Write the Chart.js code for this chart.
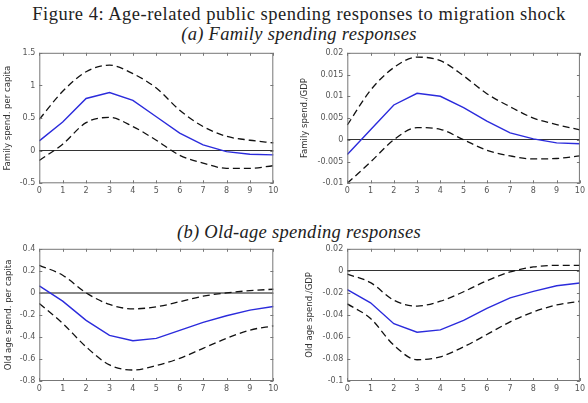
<!DOCTYPE html>
<html>
<head>
<meta charset="utf-8">
<script src="https://cdn.jsdelivr.net/npm/chart.js@4"></script>
<style>
body { margin: 0; background: #fff; width: 588px; height: 403px; position: relative; overflow: hidden; }
.t { position: absolute; left: 0; width: 598px; text-align: center; font-family: 'Liberation Serif', serif; color: #222; line-height: 1; white-space: nowrap; font-size: 18.5px; }
canvas { position: absolute; }
</style>
</head>
<body>
<div class="t" style="top:5px;letter-spacing:0.5px">Figure 4: Age-related public spending responses to migration shock</div>
<div class="t" style="top:25px;font-style:italic;letter-spacing:0.3px">(a) Family spending responses</div>
<div class="t" style="top:223px;font-style:italic;letter-spacing:0.3px">(b) Old-age spending responses</div>
<canvas id="c1" width="292" height="166" style="left:0;top:44px"></canvas>
<canvas id="c2" width="293" height="166" style="left:295px;top:44px"></canvas>
<canvas id="c3" width="292" height="163" style="left:0;top:240px"></canvas>
<canvas id="c4" width="293" height="163" style="left:295px;top:240px"></canvas>
<script>
var horizons = [0, 1, 2, 3, 4, 5, 6, 7, 8, 9, 10];

// family spending per capita
var famPcMean  = [0.15, 0.44, 0.80, 0.89, 0.77, 0.52, 0.27, 0.09, -0.015, -0.055, -0.065];
var famPcUpper = [0.48, 0.91, 1.21, 1.31, 1.18, 0.96, 0.62, 0.37, 0.22, 0.16, 0.12];
var famPcLower = [-0.15, 0.10, 0.43, 0.51, 0.37, 0.16, -0.07, -0.19, -0.27, -0.27, -0.23];
var famPcTicks = [-0.5, 0, 0.5, 1, 1.5];

// family spending / GDP
var famGdpMean  = [-0.0034, 0.0023, 0.0080, 0.0107, 0.0100, 0.0074, 0.0043, 0.0016, 0.0002, -0.0007, -0.0009];
var famGdpUpper = [0.0034, 0.0114, 0.0166, 0.0190, 0.0182, 0.0147, 0.0106, 0.0076, 0.0050, 0.0035, 0.0023];
var famGdpLower = [-0.0100, -0.0051, 0.0000, 0.0028, 0.0024, 0.0000, -0.0024, -0.0037, -0.0044, -0.0043, -0.0037];
var famGdpTicks = [-0.01, -0.005, 0, 0.005, 0.01, 0.015, 0.02];

// old-age spending per capita
var oldPcMean  = [0.063, -0.075, -0.25, -0.386, -0.434, -0.413, -0.34, -0.268, -0.208, -0.157, -0.124];
var oldPcUpper = [0.25, 0.16, 0.0, -0.105, -0.145, -0.127, -0.08, -0.03, 0.0, 0.02, 0.033];
var oldPcLower = [-0.097, -0.277, -0.49, -0.654, -0.70, -0.66, -0.594, -0.503, -0.413, -0.338, -0.30];
var oldPcTicks = [-0.8, -0.6, -0.4, -0.2, 0, 0.2, 0.4];

// old-age spending / GDP
var oldGdpMean  = [-0.017, -0.029, -0.048, -0.0557, -0.0536, -0.045, -0.034, -0.0246, -0.0186, -0.0135, -0.011];
var oldGdpUpper = [-0.003, -0.0107, -0.0267, -0.032, -0.0276, -0.019, -0.009, -0.001, 0.0035, 0.005, 0.005];
var oldGdpLower = [-0.030, -0.0433, -0.0675, -0.0807, -0.078, -0.069, -0.0578, -0.0463, -0.0373, -0.031, -0.0276];
var oldGdpTicks = [-0.1, -0.08, -0.06, -0.04, -0.02, 0, 0.02];

// box round the plot area with inward tick marks, like matlab
var framePlugin = {
	id: 'frame',
	afterDraw: function(chart) {
		var ctx = chart.ctx;
		var a = chart.chartArea;
		var xs = chart.scales.x, ys = chart.scales.y;
		var len = 3;
		ctx.save();
		ctx.strokeStyle = '#777';
		ctx.lineWidth = 1;
		ctx.strokeRect(a.left + 0.5, a.top + 0.5, a.right - a.left - 1, a.bottom - a.top - 1);
		ctx.beginPath();
		xs.ticks.forEach(function(t, i) {
			var px = Math.round(xs.getPixelForTick(i)) + 0.5;
			ctx.moveTo(px, a.bottom); ctx.lineTo(px, a.bottom - len);
			ctx.moveTo(px, a.top); ctx.lineTo(px, a.top + len);
		});
		ys.ticks.forEach(function(t) {
			var py = Math.round(ys.getPixelForValue(t.value)) + 0.5;
			ctx.moveTo(a.left, py); ctx.lineTo(a.left + len, py);
			ctx.moveTo(a.right, py); ctx.lineTo(a.right - len, py);
		});
		ctx.stroke();
		ctx.restore();
	}
};

function makePanel(id, mean, upper, lower, yTicks, yTitle, o) {
	var dashed = function(values) {
		return {
			data: values,
			borderColor: '#111',
			borderWidth: 1.3,
			borderDash: [7, 4],
			pointRadius: 0,
			cubicInterpolationMode: 'monotone'
		};
	};
	return new Chart(document.getElementById(id), {
		type: 'line',
		data: {
			labels: horizons,
			datasets: [
				dashed(upper),
				dashed(lower),
				{
					data: mean,
					borderColor: '#2b2bdc',
					borderWidth: 1.4,
					pointRadius: 0,
					tension: 0
				}
			]
		},
		options: {
			responsive: false,
			animation: false,
			layout: { padding: { left: 0, right: o.padRight, top: o.padTop, bottom: 0 } },
			plugins: { legend: { display: false }, tooltip: { enabled: false } },
			scales: {
				x: {
					offset: false,
					grid: { display: false, drawTicks: false },
					border: { display: false },
					ticks: { color: '#555', font: { family: 'DejaVu Sans', size: 8 }, padding: 3, maxRotation: 0, autoSkip: false },
					afterFit: function(scale) { scale.height = o.xHeight; }
				},
				y: {
					min: yTicks[0],
					max: yTicks[yTicks.length - 1],
					afterBuildTicks: function(axis) {
						axis.ticks = yTicks.map(function(v) { return { value: v }; });
					},
					grid: {
						drawTicks: false,
						color: function(c) { return c.tick && c.tick.value === 0 ? o.zeroColor : 'rgba(0,0,0,0)'; },
						lineWidth: function(c) { return c.tick && c.tick.value === 0 ? o.zeroWidth : 0; }
					},
					border: { display: false },
					ticks: {
						color: '#555',
						font: { family: 'DejaVu Sans', size: 8 },
						padding: 4,
						callback: function(v) { return String(v); }
					},
					title: {
						display: true,
						text: yTitle,
						color: '#333',
						font: { family: "'Liberation Sans Narrow', 'DejaVu Sans Condensed', sans-serif", size: 9.5 },
						padding: { top: o.titlePad, bottom: 0 }
					},
					afterFit: function(scale) { scale.width = o.yWidth; }
				}
			}
		},
		plugins: [framePlugin]
	});
}

makePanel('c1', famPcMean, famPcUpper, famPcLower, famPcTicks, 'Family spend. per capita',
	{ yWidth: 39.3, xHeight: 26.7, padTop: 7.7, padRight: 18.7, titlePad: 2, zeroColor: '#333', zeroWidth: 1 });
makePanel('c2', famGdpMean, famGdpUpper, famGdpLower, famGdpTicks, 'Family spend./GDP',
	{ yWidth: 52.3, xHeight: 26.7, padTop: 7.7, padRight: 8, titlePad: 3.6, zeroColor: '#333', zeroWidth: 1 });
makePanel('c3', oldPcMean, oldPcUpper, oldPcLower, oldPcTicks, 'Old age spend. per capita',
	{ yWidth: 39.3, xHeight: 22, padTop: 8.3, padRight: 18.7, titlePad: 2.9, zeroColor: '#888', zeroWidth: 2 });
makePanel('c4', oldGdpMean, oldGdpUpper, oldGdpLower, oldGdpTicks, 'Old age spend./GDP',
	{ yWidth: 52.3, xHeight: 22, padTop: 8.3, padRight: 8, titlePad: 8.6, zeroColor: '#333', zeroWidth: 1 });
</script>
</body>
</html>
